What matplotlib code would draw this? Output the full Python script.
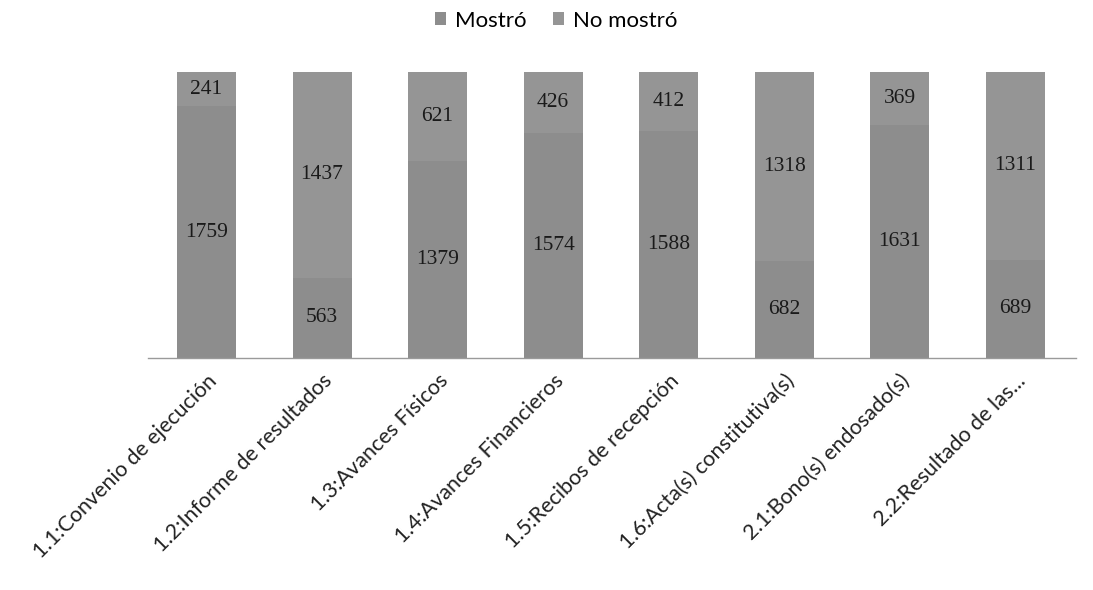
import numpy as np
import matplotlib.pyplot as plt

# Documentos revisados por proyecto
categorias = [
    "1.1:Convenio de ejecución",
    "1.2:Informe de resultados",
    "1.3:Avances Físicos",
    "1.4:Avances Financieros",
    "1.5:Recibos de recepción",
    "1.6:Acta(s) constitutiva(s)",
    "2.1:Bono(s) endosado(s)",
    "2.2:Resultado de las...",
]
mostro = [1759, 563, 1379, 1574, 1588, 682, 1631, 689]
no_mostro = [241, 1437, 621, 426, 412, 1318, 369, 1311]

COL_MOSTRO = '#8d8d8d'
COL_NO = '#959595'

fig = plt.figure(figsize=(10.93, 5.9), dpi=100)
ax = fig.add_axes([0.135, 0.393, 0.849, 0.485])

x = np.arange(len(categorias))
m = np.array(mostro)
n = np.array(no_mostro)
total = m + n

b1 = ax.bar(x, m / total * 100, width=0.51, color=COL_MOSTRO, label='Mostró')
b2 = ax.bar(x, n / total * 100, width=0.51, bottom=m / total * 100,
            color=COL_NO, label='No mostró')

# etiquetas de valor centradas en cada segmento
for bars, vals in ((b1, m), (b2, n)):
    for rect, v in zip(bars, vals):
        ax.text(rect.get_x() + rect.get_width() / 2,
                rect.get_y() + rect.get_height() / 2, str(v),
                ha='center', va='center', fontsize=15.5,
                family='Liberation Serif', color='#1a1a1a')

ax.set_xlim(-0.51, 7.52)
ax.set_ylim(0, 100)
ax.set_yticks([])
for s in ('left', 'right', 'top'):
    ax.spines[s].set_visible(False)
ax.spines['bottom'].set_color('#9a9a9a')
ax.spines['bottom'].set_linewidth(1)

ax.set_xticks(x)
ax.set_xticklabels(categorias, rotation=45, ha='right', va='top',
                   rotation_mode='anchor', fontsize=15.5, family='Lato',
                   color='#222222')
ax.tick_params(axis='x', length=0, pad=9)

fig.legend(handles=[b1, b2], loc='center', bbox_to_anchor=(0.509, 0.965),
           ncol=2, frameon=False, prop={'family': 'Lato', 'size': 16},
           handlelength=0.5, handleheight=0.5, handletextpad=0.4,
           columnspacing=1.2)

fig.savefig('out.png', dpi=100, facecolor='white')
